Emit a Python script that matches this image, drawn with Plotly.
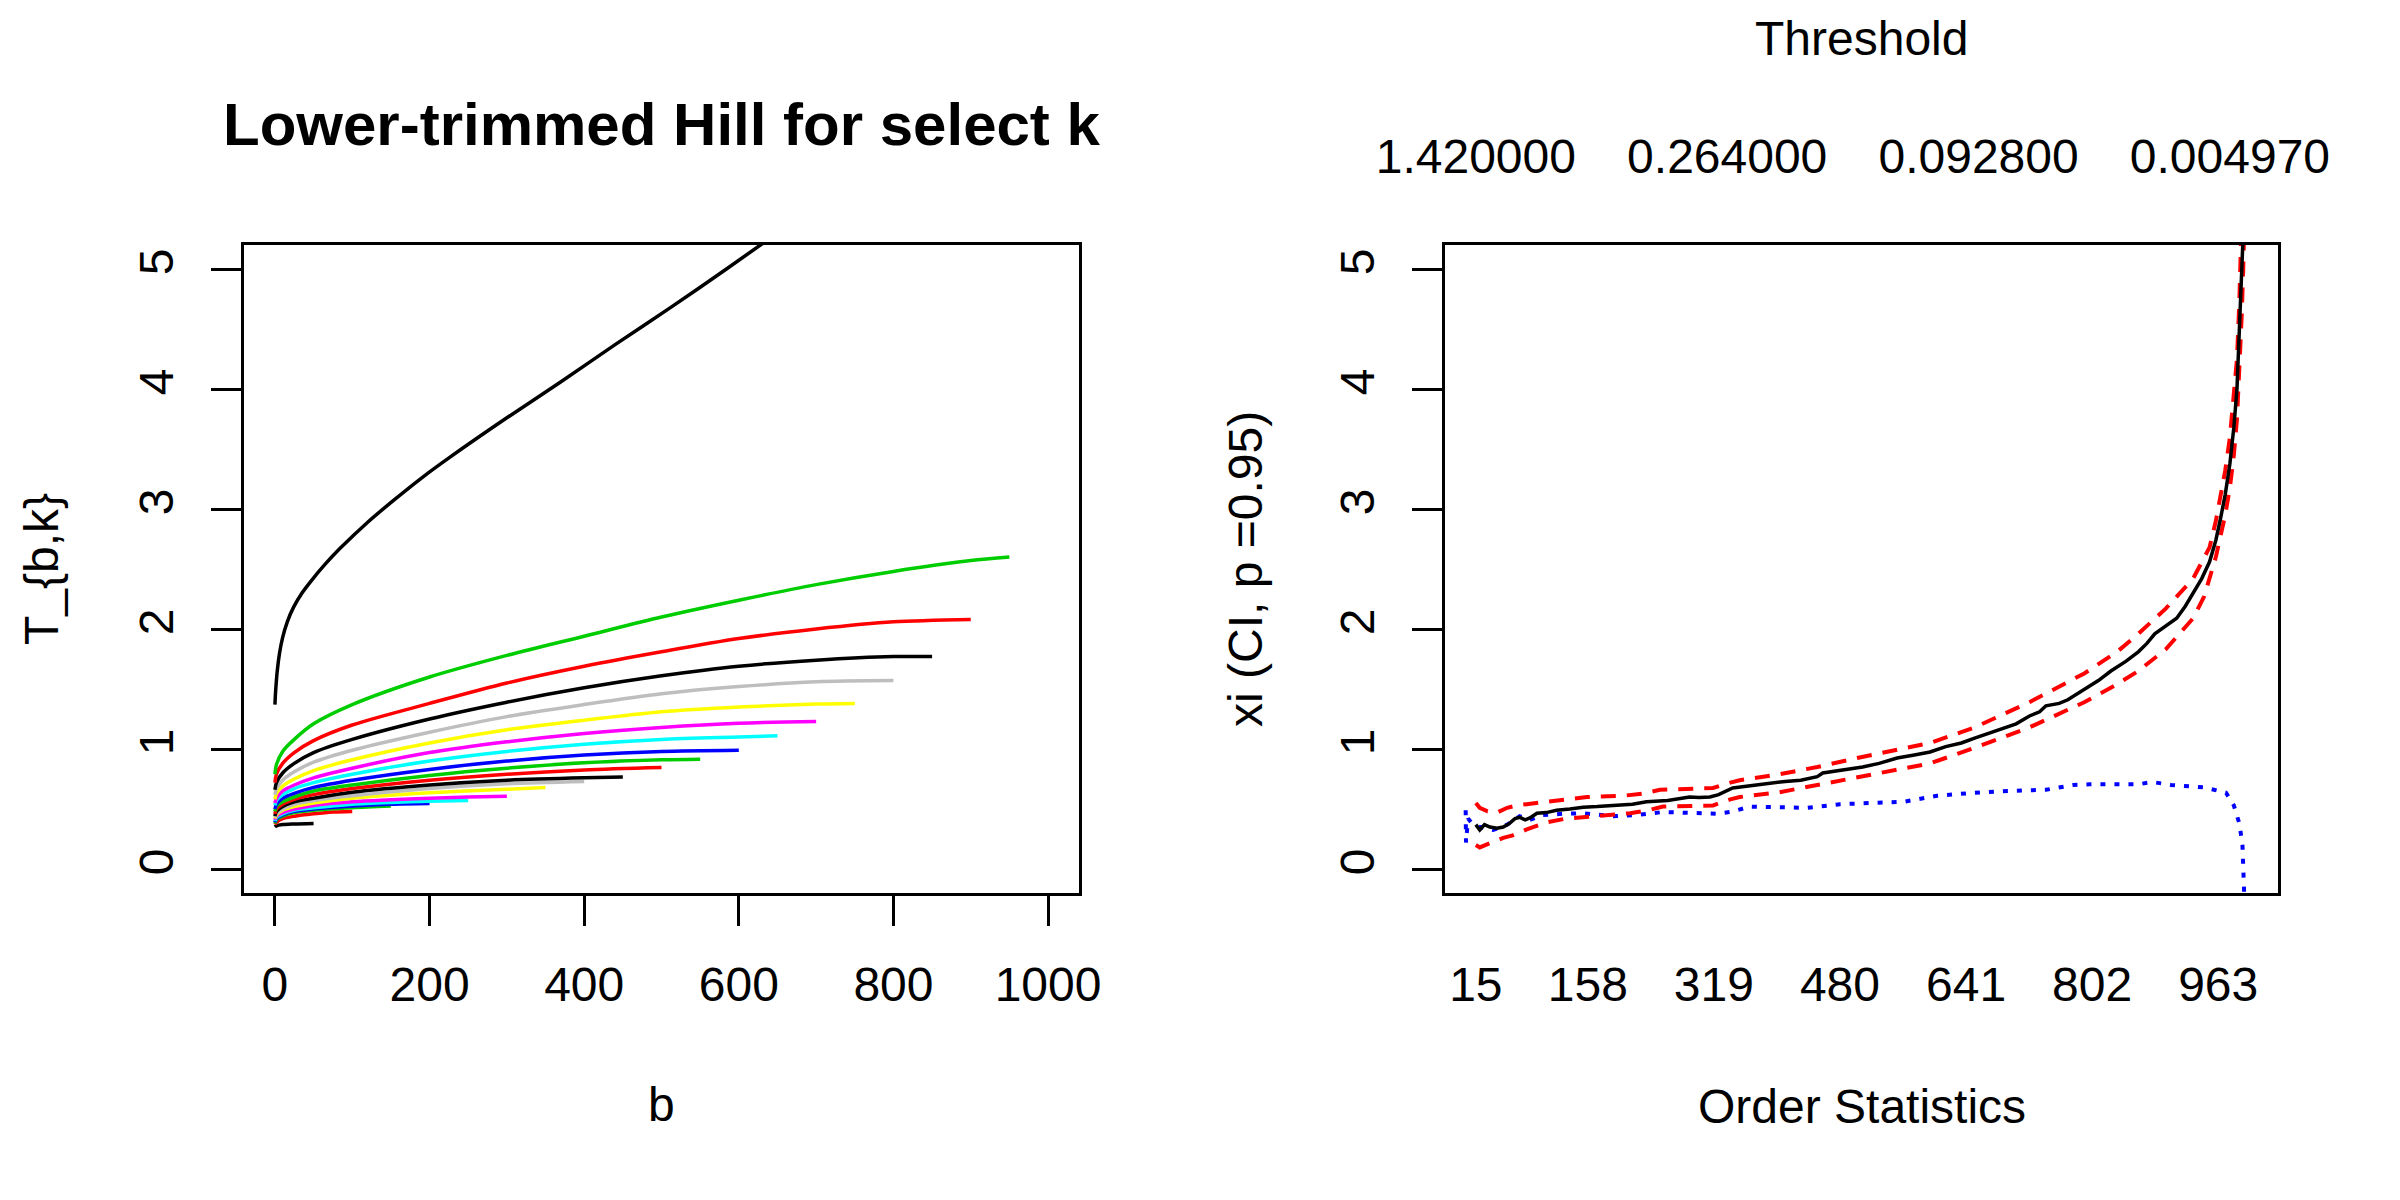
import plotly.graph_objects as go

# ---------------- data: left panel (lower-trimmed Hill, T_{b,k}) ----------------
# each curve: k (end of trimming range), colour, b values, T values
k_values = [50, 100, 150, 200, 250, 300, 350, 400, 450, 500,
            550, 600, 650, 700, 750, 800, 850, 900, 950]
curve_colors = ["#000000", "#FF0000", "#00CD00", "#0000FF", "#00FFFF", "#FF00FF", "#FFFF00", "#BEBEBE",
                "#000000", "#FF0000", "#00CD00", "#0000FF", "#00FFFF", "#FF00FF", "#FFFF00", "#BEBEBE",
                "#000000", "#FF0000", "#00CD00"]
curve_b = [
    [0, 2, 10, 25, 50],
    [0, 2, 10, 25, 50, 75, 100],
    [0, 2, 10, 25, 50, 100, 150],
    [0, 2, 10, 25, 50, 100, 150, 200],
    [0, 2, 10, 25, 50, 100, 150, 200, 250],
    [0, 2, 10, 25, 50, 100, 200, 250, 300],
    [0, 2, 10, 25, 50, 100, 200, 300, 350],
    [0, 2, 10, 25, 50, 100, 200, 300, 400],
    [0, 2, 10, 25, 50, 100, 200, 300, 400, 450],
    [0, 2, 10, 25, 50, 100, 200, 300, 400, 500],
    [0, 2, 10, 25, 50, 100, 200, 300, 400, 500, 550],
    [0, 2, 10, 25, 50, 100, 200, 300, 400, 500, 600],
    [0, 2, 10, 25, 50, 100, 200, 300, 400, 500, 600, 650],
    [0, 2, 10, 25, 50, 100, 200, 300, 400, 500, 600, 700],
    [0, 2, 10, 25, 50, 100, 200, 300, 400, 500, 600, 700, 750],
    [0, 2, 10, 25, 50, 100, 200, 300, 400, 500, 600, 700, 800],
    [0, 2, 10, 25, 50, 100, 200, 300, 400, 500, 600, 700, 800, 850],
    [0, 2, 10, 25, 50, 100, 200, 300, 400, 500, 600, 700, 800, 900],
    [0, 2, 10, 25, 50, 100, 200, 300, 400, 500, 600, 700, 800, 900, 950],
]
curve_t = [
    [0.35, 0.36, 0.37, 0.375, 0.38],
    [0.37, 0.39, 0.42, 0.44, 0.46, 0.475, 0.48],
    [0.38, 0.41, 0.44, 0.47, 0.49, 0.51, 0.524],
    [0.39, 0.42, 0.45, 0.48, 0.50, 0.525, 0.54, 0.546],
    [0.40, 0.43, 0.46, 0.49, 0.51, 0.54, 0.555, 0.565, 0.57],
    [0.41, 0.44, 0.47, 0.50, 0.53, 0.56, 0.59, 0.60, 0.606],
    [0.42, 0.45, 0.49, 0.52, 0.55, 0.59, 0.635, 0.665, 0.68],
    [0.43, 0.46, 0.50, 0.54, 0.57, 0.61, 0.67, 0.71, 0.73],
    [0.44, 0.48, 0.52, 0.56, 0.59, 0.64, 0.70, 0.74, 0.76, 0.766],
    [0.46, 0.50, 0.54, 0.58, 0.62, 0.67, 0.74, 0.79, 0.825, 0.845],
    [0.48, 0.52, 0.56, 0.60, 0.65, 0.70, 0.78, 0.84, 0.885, 0.91, 0.915],
    [0.50, 0.54, 0.59, 0.63, 0.68, 0.74, 0.83, 0.90, 0.95, 0.98, 0.99],
    [0.53, 0.57, 0.62, 0.67, 0.72, 0.79, 0.90, 0.98, 1.04, 1.08, 1.10, 1.11],
    [0.55, 0.59, 0.65, 0.70, 0.76, 0.84, 0.97, 1.06, 1.13, 1.18, 1.215, 1.23],
    [0.58, 0.63, 0.69, 0.75, 0.82, 0.91, 1.05, 1.16, 1.24, 1.31, 1.35, 1.375, 1.38],
    [0.62, 0.67, 0.74, 0.81, 0.89, 0.99, 1.14, 1.27, 1.37, 1.46, 1.52, 1.56, 1.57],
    [0.66, 0.72, 0.80, 0.88, 0.97, 1.08, 1.25, 1.39, 1.51, 1.61, 1.69, 1.74, 1.77, 1.77],
    [0.72, 0.79, 0.88, 0.97, 1.07, 1.20, 1.38, 1.55, 1.69, 1.81, 1.92, 2.00, 2.06, 2.08],
    [0.79, 0.87, 0.98, 1.08, 1.21, 1.37, 1.60, 1.78, 1.94, 2.10, 2.24, 2.37, 2.48, 2.57, 2.60],
]
# the steep black curve at the top (leaves the plot region)
top_b = [0, 1, 3, 6, 10, 16, 24, 35, 48, 65, 84, 120, 155, 190, 226, 300, 370, 440, 512, 584, 650]
top_t = [1.37, 1.49, 1.65, 1.80, 1.93, 2.06, 2.18, 2.30, 2.41, 2.54, 2.67, 2.89, 3.08, 3.26, 3.43,
         3.76, 4.06, 4.37, 4.68, 5.00, 5.30]

# ---------------- data: right panel (Hill plot, xi with CI) ----------------
hill_k = [15, 20, 26, 33, 42, 50, 58, 65, 71, 78, 84, 93, 105, 118, 135, 152, 170, 195, 215, 233,
          260, 288, 300, 314, 325, 343, 360, 382, 410, 430, 451, 458, 480, 509, 530, 553, 575, 595,
          615, 635, 652, 670, 687, 705, 722, 735, 743, 760, 771, 792, 810, 826, 845, 861, 872, 882,
          895, 910, 921, 931, 942, 952, 960, 966, 972, 978, 983, 987, 990, 993, 995, 998]
hill_xi = [0.37, 0.325, 0.37, 0.35, 0.34, 0.35, 0.38, 0.42, 0.43, 0.41, 0.425, 0.465, 0.47, 0.49, 0.50,
           0.515, 0.52, 0.535, 0.54, 0.56, 0.57, 0.60, 0.595, 0.60, 0.62, 0.675, 0.69, 0.71, 0.73, 0.74,
           0.77, 0.80, 0.82, 0.85, 0.88, 0.925, 0.95, 0.975, 1.02, 1.05, 1.09, 1.13, 1.17, 1.21, 1.275,
           1.31, 1.36, 1.38, 1.41, 1.50, 1.57, 1.65, 1.73, 1.81, 1.88, 1.96, 2.02, 2.09, 2.19, 2.30,
           2.42, 2.56, 2.74, 2.92, 3.12, 3.38, 3.68, 4.00, 4.45, 4.90, 5.30, 6.20]
upper_k = [15, 20, 30, 42, 55, 67, 80, 93, 118, 157, 203, 230, 250, 297, 318, 340, 352, 403, 451,
           502, 553, 595, 652, 722, 792, 834, 861, 896, 931, 952, 960, 966, 972, 978, 983, 987, 990,
           993, 995, 998]
upper_xi = [0.55, 0.51, 0.48, 0.47, 0.51, 0.53, 0.54, 0.55, 0.575, 0.60, 0.61, 0.63, 0.66, 0.675, 0.675,
            0.72, 0.74, 0.79, 0.85, 0.925, 0.99, 1.05, 1.18, 1.39, 1.63, 1.81, 1.96, 2.17, 2.42, 2.68,
            2.90, 3.10, 3.32, 3.60, 3.92, 4.25, 4.72, 5.20, 5.60, 6.60]
lower_k = [15, 20, 35, 50, 62, 80, 106, 130, 148, 180, 212, 235, 254, 290, 318, 340, 352, 403, 451,
           502, 553, 595, 652, 722, 792, 834, 861, 896, 931, 945, 960, 966, 972, 978, 983, 987, 990,
           993, 995, 998]
lower_xi = [0.20, 0.18, 0.22, 0.26, 0.28, 0.33, 0.39, 0.42, 0.43, 0.45, 0.465, 0.49, 0.52, 0.525, 0.53,
            0.58, 0.60, 0.64, 0.70, 0.76, 0.825, 0.88, 1.01, 1.18, 1.39, 1.54, 1.65, 1.83, 2.09, 2.27,
            2.60, 2.77, 2.95, 3.18, 3.45, 3.75, 4.15, 4.60, 5.00, 5.80]
blue_k = [2, 2.4, 5, 10, 20, 37, 55, 71, 84, 101, 126, 152, 190, 221, 254, 297, 323, 340, 365, 400,
          438, 480, 522, 561, 604, 652, 694, 743, 778, 799, 861, 879, 903, 945, 973, 983, 990, 994, 996, 997]
blue_v = [0.49, 0.22, 0.42, 0.38, 0.35, 0.325, 0.37, 0.44, 0.41, 0.45, 0.46, 0.465, 0.44, 0.45, 0.475,
          0.465, 0.46, 0.475, 0.52, 0.515, 0.51, 0.54, 0.55, 0.56, 0.61, 0.636, 0.65, 0.66, 0.70, 0.706,
          0.706, 0.725, 0.70, 0.68, 0.636, 0.53, 0.38, 0.20, -0.17, -0.50]

# axis tick labels
left_xticks = [0, 200, 400, 600, 800, 1000]
y_ticks = [0, 1, 2, 3, 4, 5]
order_ticks = [15, 158, 319, 480, 641, 802, 963]
thresh_pos = [15, 336, 657, 978]
thresh_labels = ["1.420000", "0.264000", "0.092800", "0.004970"]

# ---------------- figure ----------------
W, H = 2400, 1200
FONT = "Liberation Sans, Arial, Helvetica, sans-serif"


def px_x(p):
    return p / W


def px_y(p):
    return 1 - p / H


fig = go.Figure()

for kk, col, bb, tt in zip(k_values, curve_colors, curve_b, curve_t):
    fig.add_trace(go.Scatter(x=bb, y=tt, mode="lines", xaxis="x", yaxis="y",
                             line=dict(color=col, width=3.5, shape="spline", smoothing=0.8),
                             showlegend=False, hoverinfo="skip", name=f"k={kk}"))
fig.add_trace(go.Scatter(x=top_b, y=top_t, mode="lines", xaxis="x", yaxis="y",
                         line=dict(color="#000000", width=3.5, shape="spline", smoothing=0.8),
                         showlegend=False, hoverinfo="skip"))

fig.add_trace(go.Scatter(x=blue_k, y=blue_v, mode="lines", xaxis="x2", yaxis="y2",
                         line=dict(color="#0000FF", width=4, dash="5px,9px"),
                         showlegend=False, hoverinfo="skip"))
fig.add_trace(go.Scatter(x=upper_k, y=upper_xi, mode="lines", xaxis="x2", yaxis="y2",
                         line=dict(color="#FF0000", width=4, dash="15px,11px"),
                         showlegend=False, hoverinfo="skip"))
fig.add_trace(go.Scatter(x=lower_k, y=lower_xi, mode="lines", xaxis="x2", yaxis="y2",
                         line=dict(color="#FF0000", width=4, dash="15px,11px"),
                         showlegend=False, hoverinfo="skip"))
fig.add_trace(go.Scatter(x=hill_k, y=hill_xi, mode="lines", xaxis="x2", yaxis="y2",
                         line=dict(color="#000000", width=3.5),
                         showlegend=False, hoverinfo="skip"))
# invisible trace to bind the top (threshold) axis
fig.add_trace(go.Scatter(x=thresh_pos, y=[None] * len(thresh_pos), mode="lines", xaxis="x3", yaxis="y2",
                         showlegend=False, hoverinfo="skip"))

plot_top, plot_bot = 245, 893
ydom = [px_y(plot_bot), px_y(plot_top)]
left_dom = [px_x(244), px_x(1079)]
right_dom = [px_x(1445), px_x(2278)]

common_axis = dict(showgrid=False, zeroline=False, showline=True, linecolor="black", linewidth=3,
                   mirror=True, automargin=False, tickfont=dict(family=FONT, size=48, color="black"),
                   tickcolor="black", tickwidth=3)

fig.update_layout(
    width=W, height=H, margin=dict(l=0, r=0, t=0, b=0, pad=0, autoexpand=False),
    paper_bgcolor="white", plot_bgcolor="white", showlegend=False,
    font=dict(family=FONT, color="black"),
    xaxis=dict(domain=left_dom, range=[-40, 1040], anchor="y", tickmode="array",
               tickvals=left_xticks, ticktext=[str(v) for v in left_xticks],
               ticks="outside", ticklen=30, ticklabelstandoff=17, **common_axis),
    yaxis=dict(domain=ydom, range=[-0.2, 5.2], anchor="x", tickmode="array",
               tickvals=y_ticks, ticktext=[str(v) for v in y_ticks], tickangle=-90,
               ticks="outside", ticklen=30, ticklabelstandoff=19, **common_axis),
    xaxis2=dict(domain=right_dom, range=[-24.4, 1039.4], anchor="y2", tickmode="array",
                tickvals=order_ticks, ticktext=[str(v) for v in order_ticks],
                ticks="", ticklabelstandoff=47, **common_axis),
    yaxis2=dict(domain=ydom, range=[-0.2, 5.2], anchor="x2", tickmode="array",
                tickvals=y_ticks, ticktext=[str(v) for v in y_ticks], tickangle=-90,
                ticks="outside", ticklen=30, ticklabelstandoff=19, **common_axis),
    xaxis3=dict(overlaying="x2", side="top", anchor="y2", range=[-24.4, 1039.4], tickmode="array",
                tickvals=thresh_pos, ticktext=thresh_labels, ticks="", showline=False,
                showgrid=False, zeroline=False, automargin=False, ticklabelstandoff=61,
                tickfont=dict(family=FONT, size=48, color="black")),
)

ann = [
    dict(text="<b>Lower-trimmed Hill for select k</b>", x=px_x(661.5), y=px_y(125), size=60, angle=0),
    dict(text="b", x=px_x(661.5), y=px_y(1104), size=48, angle=0),
    dict(text="Order Statistics", x=px_x(1861.5), y=px_y(1106), size=48, angle=0),
    dict(text="Threshold", x=px_x(1861.5), y=px_y(39), size=48, angle=0),
    dict(text="T_{b,k}", x=px_x(41), y=px_y(569), size=48, angle=-90),
    dict(text="xi (CI, p =0.95)", x=px_x(1245), y=px_y(569), size=48, angle=-90),
]
for a in ann:
    fig.add_annotation(text=a["text"], x=a["x"], y=a["y"], xref="paper", yref="paper",
                       xanchor="center", yanchor="middle", showarrow=False, textangle=a["angle"],
                       font=dict(family=FONT, size=a["size"], color="black"))

fig.write_html("out.html")
